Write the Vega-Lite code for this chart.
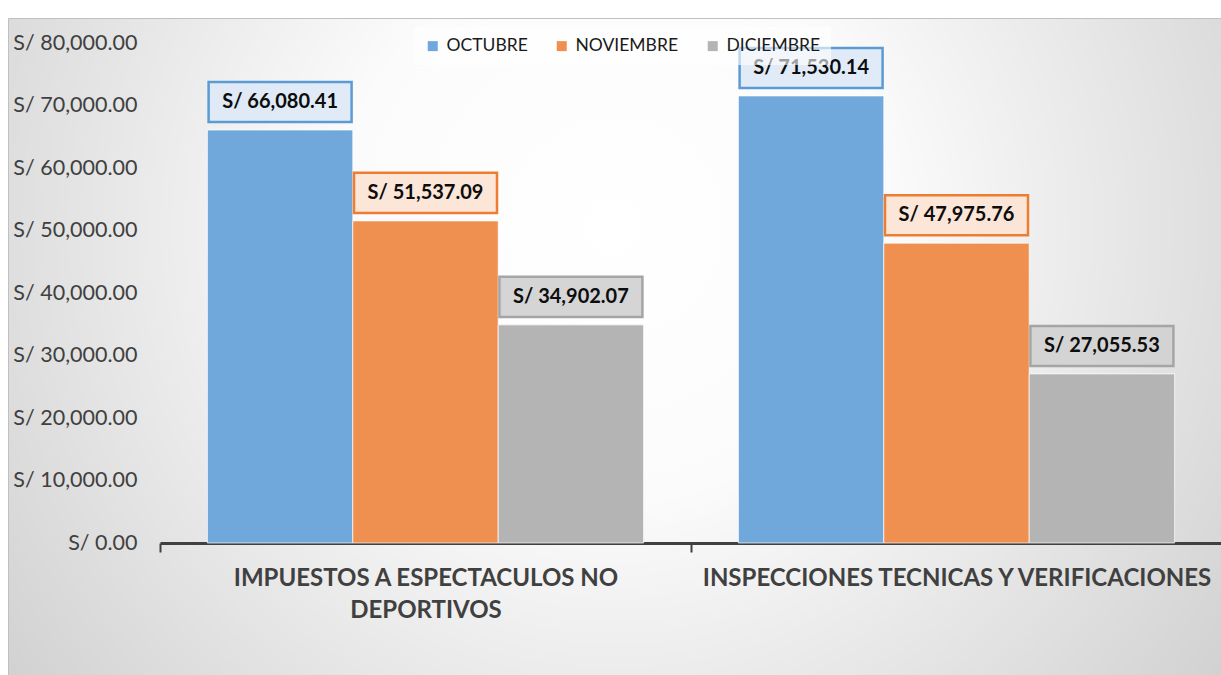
{
  "$schema": "https://vega.github.io/schema/vega-lite/v6.json",
  "width": 1213,
  "height": 657,
  "autosize": {"type": "none"},
  "padding": {"left": 8, "top": 18, "right": 0, "bottom": 0},
  "background": "white",
  "config": {
    "font": "Lato",
    "view": {
      "fill": {"gradient": "radial", "x1": 0.5, "y1": 0.4, "r1": 0, "x2": 0.5, "y2": 0.4, "r2": 0.75,
        "stops": [{"offset": 0, "color": "#ffffff"}, {"offset": 0.3, "color": "#fbfbfb"}, {"offset": 1, "color": "#c4c4c4"}]},
      "stroke": "#c0c0c0"
    }
  },
  "data": {
    "values": [
      {"concepto": "IMPUESTOS A ESPECTACULOS NO DEPORTIVOS", "mes": "OCTUBRE", "monto": 66080.41, "etiqueta": "S/ 66,080.41"},
      {"concepto": "IMPUESTOS A ESPECTACULOS NO DEPORTIVOS", "mes": "NOVIEMBRE", "monto": 51537.09, "etiqueta": "S/ 51,537.09"},
      {"concepto": "IMPUESTOS A ESPECTACULOS NO DEPORTIVOS", "mes": "DICIEMBRE", "monto": 34902.07, "etiqueta": "S/ 34,902.07"},
      {"concepto": "INSPECCIONES TECNICAS Y VERIFICACIONES", "mes": "OCTUBRE", "monto": 71530.14, "etiqueta": "S/ 71,530.14"},
      {"concepto": "INSPECCIONES TECNICAS Y VERIFICACIONES", "mes": "NOVIEMBRE", "monto": 47975.76, "etiqueta": "S/ 47,975.76"},
      {"concepto": "INSPECCIONES TECNICAS Y VERIFICACIONES", "mes": "DICIEMBRE", "monto": 27055.53, "etiqueta": "S/ 27,055.53"}
    ]
  },
  "encoding": {
    "x": {
      "field": "concepto", "type": "nominal", "sort": null,
      "scale": {"range": [152, 1214], "paddingInner": 0, "paddingOuter": 0},
      "axis": {
        "orient": "bottom", "offset": -132, "title": null, "labelAngle": 0,
        "domainColor": "#404040", "domainWidth": 3,
        "ticks": true, "tickBand": "extent", "tickColor": "#404040", "tickWidth": 2, "tickSize": 9,
        "labelFontSize": 24, "labelFontWeight": "bold", "labelColor": "#404040",
        "labelPadding": 14, "labelLineHeight": 32, "labelLimit": 700, "labelOverlap": false,
        "labelExpr": "datum.label == 'IMPUESTOS A ESPECTACULOS NO DEPORTIVOS' ? ['IMPUESTOS A ESPECTACULOS NO', 'DEPORTIVOS'] : datum.label"
      }
    },
    "xOffset": {
      "field": "mes", "type": "nominal", "sort": ["OCTUBRE", "NOVIEMBRE", "DICIEMBRE"],
      "scale": {"paddingInner": 0, "paddingOuter": 0.326}
    },
    "y": {
      "field": "monto", "type": "quantitative",
      "scale": {"domain": [0, 80000], "range": [525, 25], "nice": false},
      "axis": {
        "orient": "left", "offset": -129, "title": null, "domain": false, "ticks": false, "tickSize": 0, "grid": false,
        "labelPadding": 0, "values": [0, 10000, 20000, 30000, 40000, 50000, 60000, 70000, 80000],
        "labelExpr": "'S/ ' + format(datum.value, ',.2f')",
        "labelFontSize": 21.5, "labelColor": "#404040"
      }
    }
  },
  "layer": [
    {
      "mark": {"type": "bar", "stroke": "white", "strokeWidth": 1, "strokeOpacity": 0.7},
      "encoding": {
        "color": {
          "field": "mes", "type": "nominal",
          "scale": {"domain": ["OCTUBRE", "NOVIEMBRE", "DICIEMBRE"], "range": ["#70a8dc", "#ef8f50", "#b4b4b4"]},
          "legend": {
            "orient": "none", "legendX": 406, "legendY": 9, "direction": "horizontal", "title": null,
            "symbolType": "square", "symbolSize": 100, "symbolStrokeWidth": 0,
            "labelFontSize": 17.5, "labelColor": "#1a1a1a", "columnPadding": 25, "labelOffset": 5,
            "padding": 10, "fillColor": "rgba(255,255,255,0.6)"
          }
        }
      }
    },
    {
      "mark": {"type": "point", "shape": "M-1,-0.28L1,-0.28L1,0.28L-1,0.28Z", "size": 20449, "filled": true,
        "opacity": 1, "fillOpacity": 0.92, "strokeOpacity": 1, "strokeWidth": 2.5, "yOffset": -28},
      "encoding": {
        "fill": {"field": "mes", "type": "nominal", "scale": {"domain": ["OCTUBRE", "NOVIEMBRE", "DICIEMBRE"], "range": ["#dde9f6", "#fbe4d5", "#d3d1d1"]}, "legend": null},
        "stroke": {"field": "mes", "type": "nominal", "scale": {"domain": ["OCTUBRE", "NOVIEMBRE", "DICIEMBRE"], "range": ["#5b9bd5", "#ed7d31", "#a5a5a5"]}, "legend": null}
      }
    },
    {
      "mark": {"type": "text", "fontSize": 20, "fontWeight": "bold", "color": "#0d0d0d", "baseline": "middle", "yOffset": -28},
      "encoding": {"text": {"field": "etiqueta", "type": "nominal"}}
    }
  ]
}
